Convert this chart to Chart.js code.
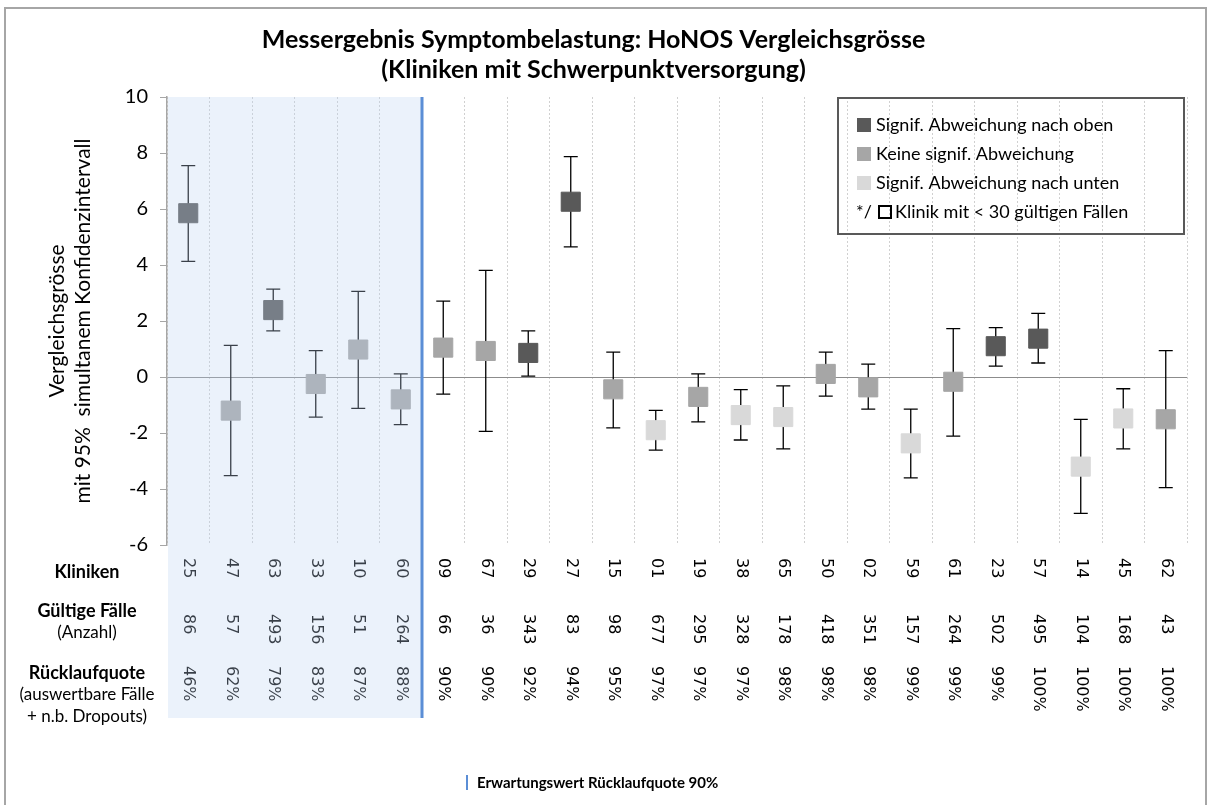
<!DOCTYPE html>
<html>
<head>
<meta charset="utf-8">
<script src="https://cdn.jsdelivr.net/npm/chart.js@4.4.1/dist/chart.umd.min.js"></script>
<style>
  body { margin: 0; background: #fff; }
  #wrap { width: 1211px; height: 805px; }
</style>
</head>
<body>
<div id="wrap"><canvas id="honos"></canvas></div>
<script>
// Kliniken, sortiert nach Rücklaufquote
var kliniken = ['25', '47', '63', '33', '10', '60', '09', '67', '29', '27', '15', '01',
                '19', '38', '65', '50', '02', '59', '61', '23', '57', '14', '45', '62'];
var faelle = [86, 57, 493, 156, 51, 264, 66, 36, 343, 83, 98, 677,
              295, 328, 178, 418, 351, 157, 264, 502, 495, 104, 168, 43];
var quote = [46, 62, 79, 83, 87, 88, 90, 90, 92, 94, 95, 97,
             97, 97, 98, 98, 98, 99, 99, 99, 100, 100, 100, 100];
var werte = [5.85, -1.2, 2.39, -0.25, 0.98, -0.8, 1.05, 0.93, 0.86, 6.26, -0.44, -1.9,
             -0.71, -1.36, -1.43, 0.11, -0.37, -2.37, -0.17, 1.1, 1.37, -3.2, -1.48, -1.51];
var ciUnten = [4.13, -3.52, 1.65, -1.43, -1.12, -1.7, -0.61, -1.94, 0.03, 4.65, -1.82, -2.61,
               -1.6, -2.25, -2.57, -0.68, -1.15, -3.6, -2.11, 0.39, 0.5, -4.87, -2.57, -3.95];
var ciOben = [7.55, 1.13, 3.14, 0.94, 3.06, 0.11, 2.71, 3.81, 1.65, 7.87, 0.89, -1.19,
              0.11, -0.45, -0.32, 0.89, 0.46, -1.15, 1.73, 1.76, 2.27, -1.51, -0.42, 0.94];
var signif = ['oben', 'keine', 'oben', 'keine', 'keine', 'keine', 'keine', 'keine', 'oben', 'oben', 'keine', 'unten',
              'keine', 'unten', 'unten', 'keine', 'keine', 'unten', 'keine', 'oben', 'oben', 'unten', 'unten', 'keine'];
var yTicks = [-6, -4, -2, 0, 2, 4, 6, 8, 10];
var erwartung = 90;

var farben = { oben: '#595959', keine: '#a6a6a6', unten: '#d9d9d9' };
var legende = [
    ['oben', 'Signif. Abweichung nach oben'],
    ['keine', 'Keine signif. Abweichung'],
    ['unten', 'Signif. Abweichung nach unten']
];

var schrift = 'Lato, "Open Sans", sans-serif';

// Fehlerbalken (Konfidenzintervall) hinter den Markern
var fehlerbalken = {
    id: 'fehlerbalken',
    beforeDatasetsDraw: function (chart) {
        var ctx = chart.ctx, x = chart.scales.x, y = chart.scales.y;
        ctx.save();
        ctx.strokeStyle = '#000';
        ctx.lineWidth = 1.3;
        for (var i = 0; i < werte.length; i++) {
            var px = x.getPixelForValue(i);
            var y1 = y.getPixelForValue(ciOben[i]);
            var y2 = y.getPixelForValue(ciUnten[i]);
            ctx.beginPath();
            ctx.moveTo(px, y1); ctx.lineTo(px, y2);
            ctx.moveTo(px - 7, y1); ctx.lineTo(px + 7, y1);
            ctx.moveTo(px - 7, y2); ctx.lineTo(px + 7, y2);
            ctx.stroke();
        }
        ctx.restore();
    }
};

// Tabelle unter der Achse, Legende, Hinweis, Schattierung
var extras = {
    id: 'extras',
    afterDraw: function (chart) {
        var ctx = chart.ctx, x = chart.scales.x, area = chart.chartArea;
        ctx.save();

        // Zeilenbeschriftung links
        ctx.fillStyle = '#000';
        ctx.textAlign = 'center';
        ctx.textBaseline = 'middle';
        var cx = 87;
        ctx.font = 'bold 18px ' + schrift;
        ctx.fillText('Kliniken', cx, 572);
        ctx.fillText('Gültige Fälle', cx, 611);
        ctx.fillText('Rücklaufquote', cx, 673);
        ctx.font = '17px ' + schrift;
        ctx.fillText('(Anzahl)', cx, 633);
        ctx.fillText('(auswertbare Fälle', cx, 695);
        ctx.fillText('+ n.b. Dropouts)', cx, 717);

        // gedrehte Werte je Klinik
        ctx.font = '16px "DejaVu Sans", sans-serif';
        ctx.textAlign = 'left';
        var zeilen = [[kliniken, 558], [faelle, 614], [quote.map(function (q) { return q + '%'; }), 666]];
        zeilen.forEach(function (z) {
            for (var i = 0; i < z[0].length; i++) {
                ctx.save();
                ctx.translate(x.getPixelForValue(i), z[1]);
                ctx.rotate(Math.PI / 2);
                ctx.fillText(String(z[0][i]), 0, 0);
                ctx.restore();
            }
        });

        // Legende
        var lx = area.right - 349, ly = area.top + 1;
        ctx.strokeStyle = '#595959';
        ctx.lineWidth = 2;
        ctx.strokeRect(lx, ly, 346, 136);
        ctx.font = '18px ' + schrift;
        ctx.textBaseline = 'middle';
        legende.forEach(function (l, k) {
            var yy = ly + 27 + k * 29;
            ctx.fillStyle = farben[l[0]];
            ctx.fillRect(lx + 19, yy - 7, 14, 14);
            ctx.fillStyle = '#000';
            ctx.fillText(l[1], lx + 38, yy);
        });
        var y4 = ly + 27 + 3 * 29;
        ctx.fillText('*/', lx + 18, y4);
        ctx.strokeStyle = '#000';
        ctx.lineWidth = 2;
        ctx.strokeRect(lx + 41, y4 - 6, 12, 12);
        ctx.fillText('Klinik mit < 30 gültigen Fällen', lx + 57, y4);

        // Schattierung für Kliniken unter der erwarteten Rücklaufquote
        var n = quote.filter(function (q) { return q < erwartung; }).length;
        var grenze = (x.getPixelForValue(n - 1) + x.getPixelForValue(n)) / 2;
        var unten = 718;
        ctx.fillStyle = 'rgba(188, 212, 242, 0.3)';
        ctx.fillRect(area.left + 1, area.top, grenze - area.left - 1, unten - area.top);
        ctx.strokeStyle = '#5b8ed6';
        ctx.lineWidth = 3;
        ctx.beginPath();
        ctx.moveTo(grenze, area.top);
        ctx.lineTo(grenze, unten);
        ctx.stroke();

        // Hinweis unten
        ctx.lineWidth = 2;
        ctx.beginPath();
        ctx.moveTo(467, 775);
        ctx.lineTo(467, 790);
        ctx.stroke();
        ctx.fillStyle = '#000';
        ctx.font = 'bold 15px ' + schrift;
        ctx.fillText('Erwartungswert Rücklaufquote ' + erwartung + '%', 477, 783);

        // Rahmen
        ctx.strokeStyle = '#a6a6a6';
        ctx.lineWidth = 2;
        ctx.strokeRect(5, 8, 1201, 900);
        ctx.restore();
    }
};

var chart = new Chart(document.getElementById('honos').getContext('2d'), {
    type: 'line',
    data: {
        labels: kliniken,
        datasets: [{
            label: 'Vergleichsgrösse',
            data: werte,
            showLine: false,
            pointStyle: 'rect',
            pointRadius: 13.5,
            pointHoverRadius: 13.5,
            pointBorderWidth: 1,
            pointBackgroundColor: signif.map(function (s) { return farben[s]; }),
            pointBorderColor: signif.map(function (s) { return farben[s]; })
        }]
    },
    options: {
        responsive: true,
        maintainAspectRatio: false,
        animation: false,
        layout: { padding: { left: 0, right: 24, top: 0, bottom: 0 } },
        plugins: {
            legend: { display: false },
            tooltip: { enabled: false },
            title: {
                display: true,
                text: ['Messergebnis Symptombelastung: HoNOS Vergleichsgrösse',
                       '(Kliniken mit Schwerpunktversorgung)'],
                color: '#000',
                font: { family: schrift, size: 25, weight: 'bold', lineHeight: 1.2 },
                padding: { top: 25, bottom: 12 }
            }
        },
        scales: {
            x: {
                type: 'category',
                offset: true,
                afterFit: function (s) { s.height = 260; },
                ticks: { display: false },
                grid: { offset: true, color: '#d0d0d0', drawTicks: false },
                border: { display: false, dash: [2, 2] }
            },
            y: {
                min: -6,
                max: 10,
                afterFit: function (s) { s.width = 167; },
                afterBuildTicks: function (s) { s.ticks = yTicks.map(function (v) { return { value: v }; }); },
                ticks: { color: '#000', padding: 12, font: { family: schrift, size: 20 } },
                border: { display: true, color: '#a6a6a6', width: 1.5 },
                grid: {
                    color: function (c) { return c.tick && c.tick.value === 0 ? '#8c8c8c' : 'rgba(0,0,0,0)'; },
                    tickColor: '#a6a6a6',
                    tickLength: 7
                },
                title: {
                    display: true,
                    text: ['Vergleichsgrösse', 'mit 95%  simultanem Konfidenzintervall'],
                    color: '#000',
                    font: { family: schrift, size: 21, lineHeight: 1.2 },
                    padding: { top: 45 }
                }
            }
        }
    },
    plugins: [fehlerbalken, extras]
});
</script>
</body>
</html>
